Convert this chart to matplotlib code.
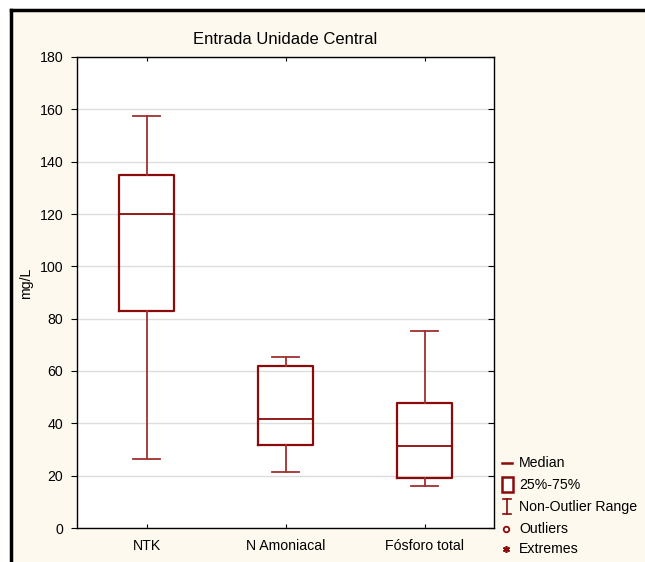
import numpy as np
import matplotlib
matplotlib.use("Agg")
import matplotlib.pyplot as plt
from matplotlib.lines import Line2D
from matplotlib.patches import Rectangle

# dados (mg/L)
categorias = ["NTK", "N Amoniacal", "Fósforo total"]
whisker_min = [26.5, 21.5, 16.0]
q1 = [83.0, 31.8, 19.0]
mediana = [120.0, 41.5, 31.5]
q3 = [135.0, 62.0, 47.8]
whisker_max = [157.5, 65.2, 75.2]

titulo = "Entrada Unidade Central"
y_ticks = [0, 20, 40, 60, 80, 100, 120, 140, 160, 180]
legenda = ["Median", "25%-75%", "Non-Outlier Range", "Outliers", "Extremes"]

cor = "#8B0A0A"
fundo = "#FEF9EE"
fs = 10.2

plt.rcParams['font.family'] = ['Liberation Sans', 'DejaVu Sans']

W, H = 645, 562
fig = plt.figure(figsize=(W / 100, H / 100), dpi=100)
fig.patch.set_facecolor("white")

# fundo creme com moldura preta (esquerda / topo)
fig.add_artist(Rectangle((11 / W, 0), 1, 1 - 10 / H, transform=fig.transFigure,
                         facecolor=fundo, edgecolor="none", zorder=-10))
fig.add_artist(Line2D([11 / W, 11 / W], [0, 1 - 10 / H], transform=fig.transFigure,
                      color="black", lw=2.5))
fig.add_artist(Line2D([11 / W, 1], [1 - 10 / H, 1 - 10 / H], transform=fig.transFigure,
                      color="black", lw=2.5))

ax = fig.add_axes([77 / W, 1 - 528 / H, (494 - 77) / W, (528 - 57) / H])
ax.set_facecolor("white")

stats = []
for i, nome in enumerate(categorias):
    stats.append({
        "label": nome,
        "whislo": whisker_min[i],
        "q1": q1[i],
        "med": mediana[i],
        "q3": q3[i],
        "whishi": whisker_max[i],
        "fliers": [],
    })

pos = np.arange(1, len(categorias) + 1)
ax.bxp(stats, positions=pos, widths=0.39, capwidths=0.19, showfliers=False,
       boxprops=dict(color=cor, lw=1.6),
       medianprops=dict(color=cor, lw=1.3),
       whiskerprops=dict(color="#A03030", lw=1.3),
       capprops=dict(color="#A03030", lw=1.3),
       zorder=3)

ax.set_xlim(0.5, 3.5)
ax.set_ylim(0, 180)
ax.set_yticks(y_ticks)
ax.set_xticks(pos)
ax.set_xticklabels(categorias)
ax.yaxis.grid(True, color="#DDDDDD", lw=1)
ax.set_axisbelow(True)
for s in ax.spines.values():
    s.set_color("black")
    s.set_linewidth(1)

ax.tick_params(axis="y", direction="out", length=4, labelsize=fs, pad=6, right=True)
ax.tick_params(axis="x", direction="in", length=3, labelsize=fs, pad=8, top=True)
ax.set_ylabel("mg/L", fontsize=fs)
ax.yaxis.set_label_coords(-0.105, 0.52)
ax.set_title(titulo, fontsize=12, pad=9)

# ticks do eixo direito para dentro
for t in ax.yaxis.get_major_ticks():
    t.tick2line.set_marker(matplotlib.lines.TICKLEFT)
    t.tick2line.set_markersize(4)

# legenda (estilo Statistica)
def px(x, y):
    return x / W, 1 - y / H

ys = [463, 485, 507, 529, 549]
for txt, y in zip(legenda, ys):
    fig.text(*px(519, y), txt, fontsize=fs, va="center", ha="left")

fig.add_artist(Line2D(*zip(px(502, 463), px(512, 463)), transform=fig.transFigure, color=cor, lw=1.8))
x0, y0 = px(502, 492)
x1, y1 = px(513, 477)
fig.add_artist(Rectangle((x0, y0), x1 - x0, y1 - y0, transform=fig.transFigure,
                         facecolor="white", edgecolor=cor, lw=1.8))
fig.add_artist(Line2D(*zip(px(507, 499), px(507, 514)), transform=fig.transFigure, color=cor, lw=1.2))
fig.add_artist(Line2D(*zip(px(503, 499), px(511, 499)), transform=fig.transFigure, color=cor, lw=1.2))
fig.add_artist(Line2D(*zip(px(503, 514), px(511, 514)), transform=fig.transFigure, color=cor, lw=1.2))
fig.add_artist(Line2D([px(506, 529)[0]], [px(506, 529)[1]], transform=fig.transFigure,
                      marker="o", ms=4, mfc="white", mec=cor, mew=1.3, ls="none"))
fig.add_artist(Line2D([px(506, 549)[0]], [px(506, 549)[1]], transform=fig.transFigure,
                      marker=(6, 2, 0), ms=5, mec=cor, mew=1.2, ls="none"))

fig.savefig("out.png", dpi=100, facecolor=fig.get_facecolor())
